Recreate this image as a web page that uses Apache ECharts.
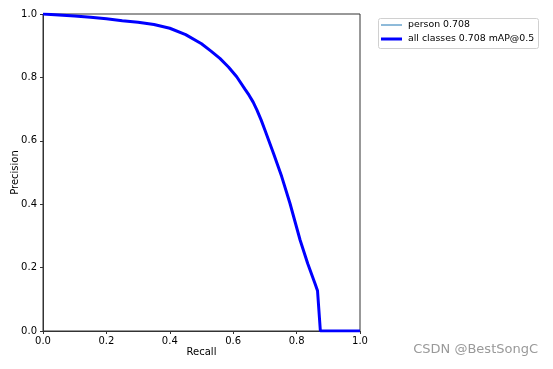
<!DOCTYPE html>
<html><head><meta charset="utf-8">
<script src="https://cdn.jsdelivr.net/npm/echarts@6/dist/echarts.min.js"></script>
<style>html,body{margin:0;padding:0;background:#fff}#c{width:553px;height:369px}</style>
</head><body><div id="c"></div>
<script>
const recall = [0, 0.05, 0.1, 0.15, 0.2, 0.25, 0.3, 0.35, 0.4, 0.45, 0.5, 0.53, 0.558, 0.585, 0.611, 0.637, 0.65, 0.663, 0.675, 0.688, 0.7, 0.727, 0.753, 0.779, 0.811, 0.835, 0.858, 0.866, 0.875, 1.0];
const precision = [1.0, 0.997, 0.994, 0.99, 0.985, 0.979, 0.974, 0.967, 0.955, 0.935, 0.906, 0.883, 0.86, 0.833, 0.802, 0.763, 0.744, 0.722, 0.697, 0.666, 0.634, 0.561, 0.487, 0.403, 0.287, 0.213, 0.15, 0.127, 0.0, 0.0];
const seriesNames = ['person 0.708', 'all classes 0.708 mAP@0.5'];
const pts = recall.map((r, i) => [r, precision[i]]);
const font = 'DejaVu Sans';
const chart = echarts.init(document.getElementById('c'), null, {renderer: 'canvas'});
chart.setOption({
  animation: false,
  textStyle: {fontFamily: font},
  grid: {left: 43, top: 14, width: 317, height: 317, containLabel: false, outerBoundsMode: 'none',
    show: true, borderColor: '#333', borderWidth: 1, backgroundColor: 'transparent'},
  xAxis: {type: 'value', min: 0, max: 1, interval: 0.2, name: 'Recall', nameLocation: 'middle', nameGap: 16, nameMoveOverlap: false,
    nameTextStyle: {fontFamily: font, fontSize: 10, color: '#000'},
    axisLine: {show: true, lineStyle: {color: '#333', width: 1}},
    axisTick: {show: true, inside: false, length: 3, lineStyle: {color: '#333'}},
    axisLabel: {fontFamily: font, fontSize: 10, color: '#000', margin: 5, formatter: v => v.toFixed(1)},
    splitLine: {show: false}},
  yAxis: {type: 'value', min: 0, max: 1, interval: 0.2, name: 'Precision', nameLocation: 'middle', nameGap: 23, nameRotate: 90, nameMoveOverlap: false,
    nameTextStyle: {fontFamily: font, fontSize: 10, color: '#000'},
    axisLine: {show: true, lineStyle: {color: '#333', width: 1}},
    axisTick: {show: true, inside: false, length: 3, lineStyle: {color: '#333'}},
    axisLabel: {fontFamily: font, fontSize: 10, color: '#000', margin: 6, formatter: v => v.toFixed(1)},
    splitLine: {show: false}},
  series: [
    {name: seriesNames[0], type: 'line', data: pts, symbol: 'none', lineStyle: {color: '#1f77b4', width: 1}, itemStyle: {color: '#1f77b4'}, z: 2},
    {name: seriesNames[1], type: 'line', data: pts, symbol: 'none', lineStyle: {color: '#0000ff', width: 3}, itemStyle: {color: '#0000ff'}, z: 3}
  ],
  graphic: [
    {type: 'rect', shape: {x: 378.5, y: 18.5, width: 160, height: 30, r: 2}, style: {fill: '#fff', stroke: '#d0d0d0', lineWidth: 1}},
    {type: 'line', shape: {x1: 381, y1: 25, x2: 402, y2: 25}, style: {stroke: '#1f77b4', lineWidth: 1}},
    {type: 'line', shape: {x1: 381, y1: 39, x2: 402, y2: 39}, style: {stroke: '#0000ff', lineWidth: 3}},
    {type: 'text', x: 408, y: 25, style: {text: seriesNames[0], fontFamily: font, fontSize: 9.4, fill: '#000', verticalAlign: 'middle'}},
    {type: 'text', x: 408, y: 39, style: {text: seriesNames[1], fontFamily: font, fontSize: 9.4, fill: '#000', verticalAlign: 'middle'}},
    {type: 'text', right: 15, top: 343, style: {text: 'CSDN @BestSongC', fontFamily: font, fontSize: 13, fill: '#999'}}
  ]
});
</script></body></html>
